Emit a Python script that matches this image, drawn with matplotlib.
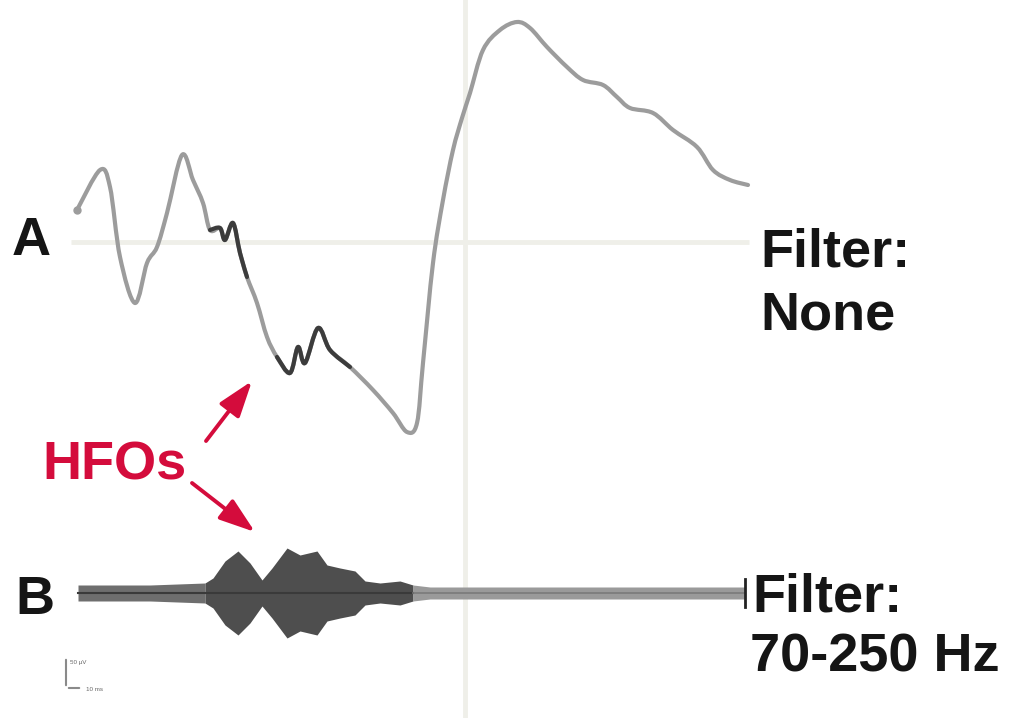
import matplotlib
matplotlib.use("Agg")
import matplotlib.pyplot as plt
from matplotlib.path import Path
from matplotlib.patches import PathPatch
import numpy as np

# ---- data -------------------------------------------------------------
# Trace A: unfiltered recording (time in ms relative to the event, amplitude in µV)
time_a = [-194, -182.5, -177.5, -172.5, -165, -159, -154, -149, -141.5, -136,
          -131, -127.5, -122.5, -120, -116, -112.5, -109, -104, -99, -94,
          -87.5, -83.5, -80, -73.5, -67.5, -57.5, -46, -36, -29, -24,
          -21, -16, -11, -6, -1.5, 2.5, 9, 17.5, 26, 32.5,
          41, 51, 59, 69, 76, 82.5, 94, 104, 116, 124,
          132.5, 141.5]
amp_a = [16, 36, 27.5, -7.5, -30.5, -10.5, -2.5, 14.5, 43.5, 31,
         19.5, 6, 7, 1, 9.5, -5.5, -17.5, -30.5, -47.5, -57.5,
         -65.5, -52.5, -60.5, -43, -54, -62.5, -74, -85.5, -95, -90.5,
         -60.5, -10.5, 21, 46, 62, 74.5, 96, 106, 110, 107,
         97.5, 87.5, 81, 78.5, 72.5, 67, 64.5, 56, 47.5, 36,
         31, 28.5]

# Stretches of trace A that carry high-frequency oscillations (ms)
hfo_windows = [(-128, -108), (-97, -55)]

# Trace B: 70-250 Hz band-pass output, described by its envelope (µV)
time_b = [-193.5, -157.5, -130, -126, -120, -113.5, -107.5, -101.5, -96.5, -89,
          -82.5, -74, -69, -62.5, -55, -50, -42.5, -32.5, -26, -17.5,
          0, 67.5, 140]
env_b = [4, 4, 5, 7.5, 16, 21, 15, 6.5, 12.5, 22.5,
         19, 21, 14, 12.5, 11, 6, 5, 6, 4, 3,
         3, 3, 3]
offset_b = -175.5

# ---- figure -----------------------------------------------------------
W, H = 1013, 718
fig = plt.figure(figsize=(W / 100, H / 100), dpi=100)
ax = fig.add_axes([0, 0, 1, 1])
ax.set_xlim(-232.5, 274)
ax.set_ylim(-238, 121)
ax.axis("off")

plt.rcParams["font.family"] = ["Liberation Sans", "DejaVu Sans"]


def fpx(x, y):
    """Pixel position (from top-left) to figure fraction."""
    return x / W, 1 - y / H


def smooth_path(xs, ys):
    """Catmull-Rom curve through the samples, as cubic Bezier segments."""
    p = np.column_stack([xs, ys]).astype(float)
    ext = np.vstack([p[0], p, p[-1]])
    verts = [p[0]]
    codes = [Path.MOVETO]
    for i in range(len(p) - 1):
        p0, p1, p2, p3 = ext[i], ext[i + 1], ext[i + 2], ext[i + 3]
        verts += [p1 + (p2 - p0) / 6, p2 - (p3 - p1) / 6, p2]
        codes += [Path.CURVE4] * 3
    return Path(verts, codes)


def draw_curve(xs, ys, color, lw, z):
    ax.add_patch(PathPatch(smooth_path(xs, ys), facecolor="none",
                           edgecolor=color, lw=lw, capstyle="round",
                           joinstyle="round", zorder=z))


# reference lines: event time and zero level of trace A
ax.axvline(0, color="#efefe9", lw=3.5, zorder=0)
ax.plot([-197, 142], [0, 0], color="#efefe9", lw=3.5, zorder=0,
        solid_capstyle="butt")

# trace A
ta = np.array(time_a)
va = np.array(amp_a)
draw_curve(ta, va, "#9c9c9c", 3.0, 2)
for lo, hi in hfo_windows:
    m = (ta >= lo) & (ta <= hi)
    draw_curve(ta[m], va[m], "#3c3c3c", 3.0, 3)
ax.plot([time_a[0]], [amp_a[0]], "o", color="#9c9c9c", ms=5, zorder=3)

# trace B: background activity, burst, and post-event activity
tb = np.array(time_b)
eb = np.array(env_b)
segments = [(-200, -130, "#6e6e6e"), (-130, -26, "#4e4e4e"), (-26, 150, "#9a9a9a")]
for lo, hi, col in segments:
    m = (tb >= lo) & (tb <= hi)
    ax.fill_between(tb[m], offset_b - eb[m], offset_b + eb[m],
                    color=col, lw=0, zorder=2)
ax.plot([time_b[0], -26], [offset_b, offset_b], color="#3a3a3a",
        lw=1.5, zorder=3)
ax.plot([-26, time_b[-1]], [offset_b, offset_b], color="#7a7a7a",
        lw=1.2, zorder=3)
ax.plot([time_b[-1], time_b[-1]], [offset_b - 7, offset_b + 7],
        color="#222222", lw=2, zorder=3)

# labels
big = dict(fontsize=39, fontweight="bold", ha="left", va="baseline",
           transform=fig.transFigure)
fig.text(*fpx(12, 255), "A", color="#151515", **big)
fig.text(*fpx(15, 614), "B", color="#151515", **big)
fig.text(*fpx(760, 267), "Filter:", color="#151515", **big)
fig.text(*fpx(760, 330), "None", color="#151515", **big)
fig.text(*fpx(752, 612), "Filter:", color="#151515", **big)
fig.text(*fpx(750, 672), "70-250 Hz", color="#151515", **big)

red = "#d40c3c"
fig.text(*fpx(42, 480), "HFOs", color=red, **big)
for start, tip in [((206, 441), (252, 381)), ((192, 483), (255, 532))]:
    ax.annotate("", xy=fpx(*tip), xytext=fpx(*start),
                xycoords="figure fraction", textcoords="figure fraction",
                arrowprops=dict(arrowstyle="-|>,head_length=2.2,head_width=0.75",
                                color=red, lw=2.8, shrinkA=0, shrinkB=0))

# scale bar
ax.annotate("", xy=fpx(66, 657), xytext=fpx(66, 688),
            xycoords="figure fraction", textcoords="figure fraction",
            arrowprops=dict(arrowstyle="-", color="#8a8a8a", lw=1.5))
ax.annotate("", xy=fpx(82, 688), xytext=fpx(66, 688),
            xycoords="figure fraction", textcoords="figure fraction",
            arrowprops=dict(arrowstyle="-", color="#8a8a8a", lw=1.5))
fig.text(*fpx(70, 664), "50 µV", fontsize=4.5, color="#666666",
         ha="left", va="baseline", transform=fig.transFigure)
fig.text(*fpx(86, 691), "10 ms", fontsize=4.5, color="#666666",
         ha="left", va="baseline", transform=fig.transFigure)

fig.savefig("out.png", dpi=100, facecolor="white")
